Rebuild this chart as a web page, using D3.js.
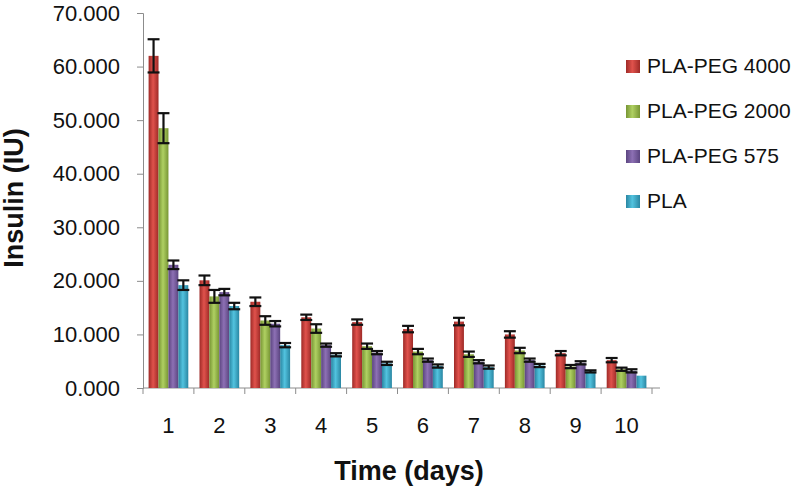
<!DOCTYPE html>
<html>
<head>
<meta charset="utf-8">
<script src="https://cdn.jsdelivr.net/npm/d3@7"></script>
<style>
  body { margin: 0; background: #fff; }
  svg { font-family: "Liberation Sans", Arial, sans-serif; }
</style>
</head>
<body>
<main></main>
<script>
const width = 791, height = 488;

// data
const days = ["1", "2", "3", "4", "5", "6", "7", "8", "9", "10"];
const seriesNames = ["PLA-PEG 4000", "PLA-PEG 2000", "PLA-PEG 575", "PLA"];
const peg4000 = [62.0, 20.1, 16.1, 13.2, 12.3, 11.0, 12.4, 10.0, 6.5, 5.2];
const peg2000 = [48.5, 17.1, 12.6, 11.1, 7.8, 6.8, 6.3, 7.0, 4.0, 3.5];
const peg575 = [23.0, 17.9, 12.0, 8.0, 6.6, 5.2, 4.9, 5.2, 4.7, 3.2];
const pla = [19.2, 15.3, 8.0, 6.2, 4.6, 4.1, 3.9, 4.2, 3.1, 2.3];
const err4000 = [3.1, 0.9, 0.8, 0.5, 0.5, 0.6, 0.7, 0.6, 0.4, 0.4];
const err2000 = [2.8, 1.2, 0.8, 0.8, 0.5, 0.5, 0.5, 0.5, 0.3, 0.3];
const err575 = [0.8, 0.6, 0.5, 0.3, 0.3, 0.3, 0.3, 0.3, 0.3, 0.3];
const errPla = [0.9, 0.6, 0.4, 0.3, 0.3, 0.3, 0.3, 0.3, 0.2, 0.0];
const yTicks = [0, 10, 20, 30, 40, 50, 60, 70];

const colors = [
  {edge: "#9e2a27", mid: "#e0524c"},
  {edge: "#779534", mid: "#afd062"},
  {edge: "#5b4580", mid: "#8d70b4"},
  {edge: "#2a86a2", mid: "#52c3df"}
];

const values = [peg4000, peg2000, peg575, pla];
const errors = [err4000, err2000, err575, errPla];

const rows = days.map((d, i) => ({
  day: d,
  bars: seriesNames.map((s, j) => ({key: s, idx: j, value: values[j][i], err: errors[j][i]}))
}));

const svg = d3.select("main").append("svg")
    .attr("width", width)
    .attr("height", height);

const defs = svg.append("defs");
colors.forEach((c, j) => {
  const g = defs.append("linearGradient")
      .attr("id", "grad" + j)
      .attr("x1", "0").attr("x2", "1").attr("y1", "0").attr("y2", "0");
  g.append("stop").attr("offset", "0%").attr("stop-color", c.edge);
  g.append("stop").attr("offset", "45%").attr("stop-color", c.mid);
  g.append("stop").attr("offset", "100%").attr("stop-color", c.edge);
});

const x0 = d3.scaleBand()
    .domain(days)
    .range([143, 652])
    .paddingInner(0.22)
    .paddingOuter(0.11);

const x1 = d3.scaleBand()
    .domain(seriesNames)
    .range([0, x0.bandwidth()]);

const y = d3.scaleLinear()
    .domain([0, 70])
    .range([388, 13]);

const axisColor = "#8c8c8c";

// y axis
const yAxis = svg.append("g")
    .attr("transform", "translate(143,0)")
    .call(d3.axisLeft(y).tickValues(yTicks).tickFormat(d3.format(".3f")).tickSizeOuter(0).tickSize(6).tickPadding(17));
yAxis.select(".domain").attr("stroke", axisColor);
yAxis.selectAll(".tick line").attr("stroke", axisColor);
yAxis.selectAll(".tick text")
    .attr("font-size", 22)
    .attr("fill", "#111")
    .attr("font-family", "Liberation Sans, Arial, sans-serif");

// x axis line and boundary ticks
svg.append("line")
    .attr("x1", 143).attr("x2", 660)
    .attr("y1", y(0)).attr("y2", y(0))
    .attr("stroke", axisColor);

const step = x0.step();
const bounds = days.map(d => x0(d) - step * 0.11).concat([x0(days[days.length - 1]) + x0.bandwidth() + step * 0.11]);
svg.selectAll(".xtick")
    .data(bounds)
    .enter().append("line")
    .attr("class", "xtick")
    .attr("x1", d => d).attr("x2", d => d)
    .attr("y1", y(0)).attr("y2", y(0) + 6)
    .attr("stroke", axisColor);

svg.selectAll(".xlabel")
    .data(days)
    .enter().append("text")
    .attr("class", "xlabel")
    .attr("x", d => x0(d) + x0.bandwidth() / 2)
    .attr("y", 433)
    .attr("text-anchor", "middle")
    .attr("font-size", 22)
    .attr("fill", "#111")
    .text(d => d);

// bars
const group = svg.selectAll(".group")
    .data(rows)
    .enter().append("g")
    .attr("class", "group")
    .attr("transform", d => "translate(" + x0(d.day) + ",0)");

group.selectAll("rect")
    .data(d => d.bars)
    .enter().append("rect")
    .attr("x", d => x1(d.key))
    .attr("width", x1.bandwidth())
    .attr("y", d => y(d.value))
    .attr("height", d => y(0) - y(d.value))
    .attr("fill", d => "url(#grad" + d.idx + ")");

// error bars
const eb = group.selectAll(".err")
    .data(d => d.bars.filter(b => b.err > 0))
    .enter().append("g")
    .attr("class", "err")
    .attr("stroke", "#111")
    .attr("stroke-width", 2.2);

eb.append("line")
    .attr("x1", d => x1(d.key) + x1.bandwidth() / 2)
    .attr("x2", d => x1(d.key) + x1.bandwidth() / 2)
    .attr("y1", d => y(d.value + d.err))
    .attr("y2", d => y(d.value - d.err));
eb.append("line")
    .attr("x1", d => x1(d.key) - 1)
    .attr("x2", d => x1(d.key) + x1.bandwidth() + 1)
    .attr("y1", d => y(d.value + d.err))
    .attr("y2", d => y(d.value + d.err));
eb.append("line")
    .attr("x1", d => x1(d.key) - 1)
    .attr("x2", d => x1(d.key) + x1.bandwidth() + 1)
    .attr("y1", d => y(d.value - d.err))
    .attr("y2", d => y(d.value - d.err));

// axis titles
svg.append("text")
    .attr("x", 409)
    .attr("y", 480)
    .attr("text-anchor", "middle")
    .attr("font-size", 27)
    .attr("font-weight", "bold")
    .attr("fill", "#111")
    .text("Time (days)");

svg.append("text")
    .attr("transform", "translate(23,198) rotate(-90)")
    .attr("text-anchor", "middle")
    .attr("font-size", 27)
    .attr("font-weight", "bold")
    .attr("fill", "#111")
    .text("Insulin (IU)");

// legend
const legend = svg.selectAll(".legend")
    .data(seriesNames)
    .enter().append("g")
    .attr("class", "legend")
    .attr("transform", (d, i) => "translate(626," + (73 + i * 45) + ")");

legend.append("rect")
    .attr("x", 0).attr("y", -13)
    .attr("width", 14).attr("height", 13)
    .attr("fill", (d, i) => "url(#grad" + i + ")");

legend.append("text")
    .attr("x", 21)
    .attr("y", 0)
    .attr("font-size", 21)
    .attr("fill", "#111")
    .text(d => d);
</script>
</body>
</html>
